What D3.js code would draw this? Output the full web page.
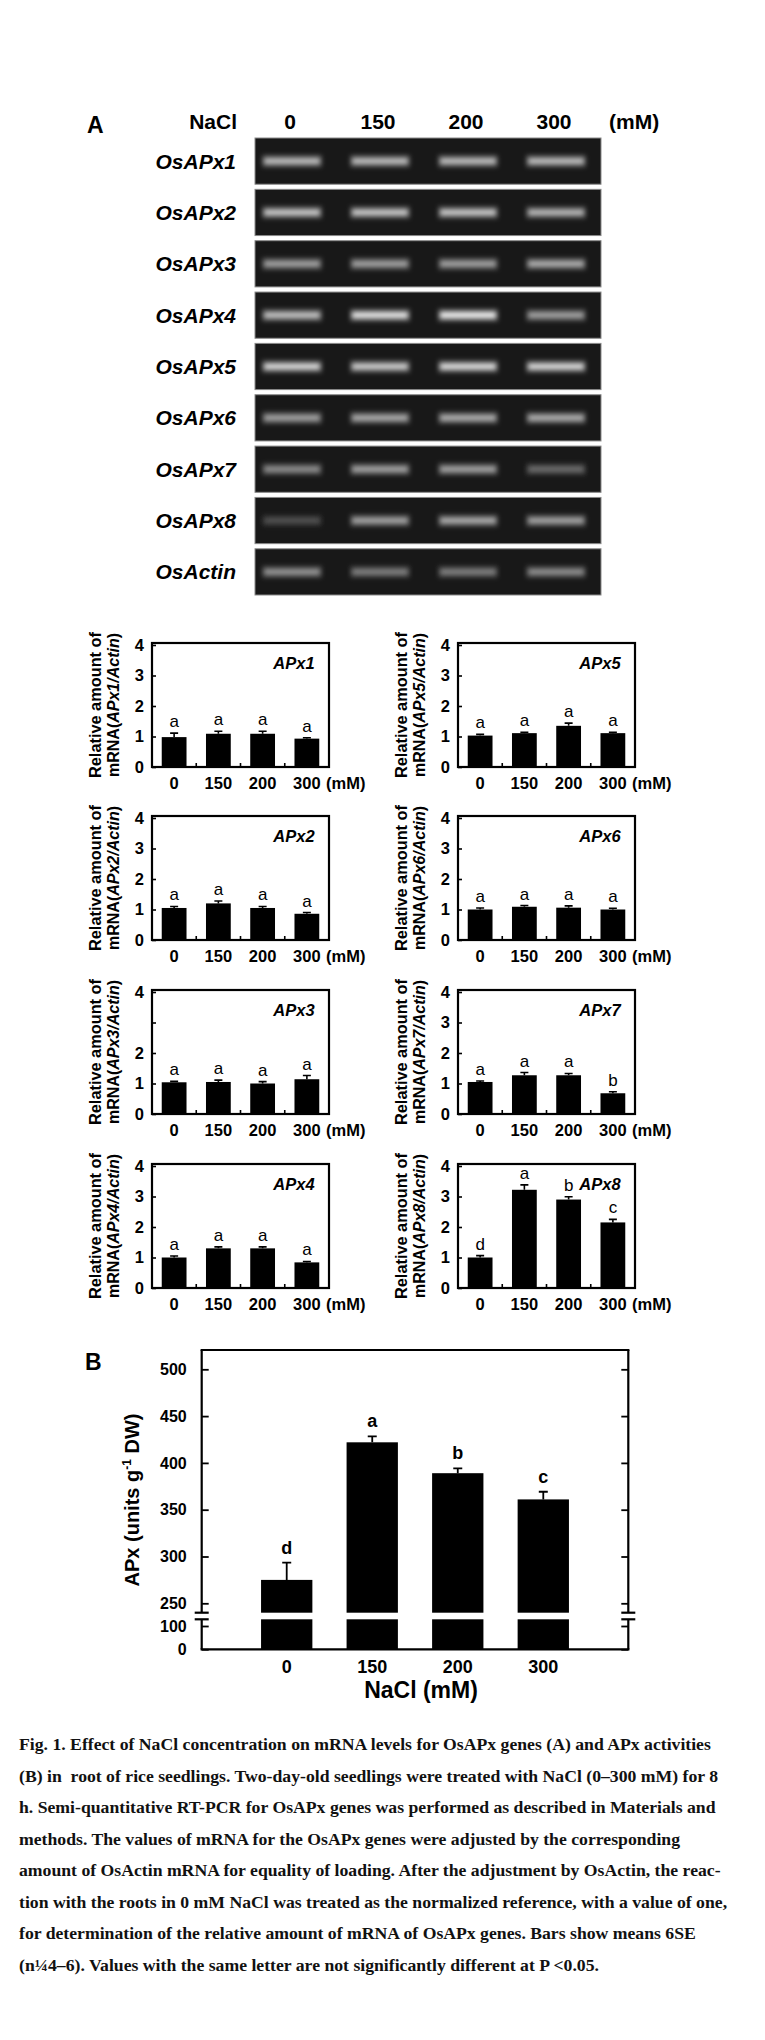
<!DOCTYPE html>
<html>
<head>
<meta charset="utf-8">
<script src="https://cdn.jsdelivr.net/npm/d3@7"></script>
<style>
body { margin: 0; background: #fff; }
svg { display: block; }
text { font-family: "Liberation Sans", Arial, Helvetica, sans-serif; fill: #000; }
.caption { font-family: "Liberation Serif", "Times New Roman", serif; font-weight: bold; font-size: 17.7px; fill: #111; }
</style>
</head>
<body>
<div id="figure"></div>
<script>
// NaCl treatments (mM)
const concentrations = ["0", "150", "200", "300"];

// RT-PCR gel rows and band brightness (0..1) per lane
const gelLabels = ["OsAPx1", "OsAPx2", "OsAPx3", "OsAPx4", "OsAPx5", "OsAPx6", "OsAPx7", "OsAPx8", "OsActin"];
const gelBands = [
    [0.75, 0.75, 0.75, 0.75],
    [0.80, 0.80, 0.80, 0.72],
    [0.62, 0.62, 0.62, 0.68],
    [0.78, 0.95, 1.00, 0.62],
    [0.88, 0.82, 0.90, 0.88],
    [0.62, 0.66, 0.68, 0.68],
    [0.52, 0.62, 0.62, 0.35],
    [0.22, 0.62, 0.66, 0.62],
    [0.55, 0.45, 0.45, 0.52]
];

// relative mRNA (APx / Actin)
const mrnaGenes = ["APx1", "APx2", "APx3", "APx4", "APx5", "APx6", "APx7", "APx8"];
const mrnaMeans = [
    [0.98, 1.09, 1.09, 0.93],
    [1.05, 1.20, 1.05, 0.86],
    [1.04, 1.05, 1.00, 1.14],
    [1.00, 1.30, 1.30, 0.84],
    [1.03, 1.11, 1.35, 1.11],
    [1.00, 1.09, 1.06, 1.00],
    [1.05, 1.27, 1.27, 0.68],
    [1.00, 3.22, 2.90, 2.15]
];
const mrnaSE = [
    [0.13, 0.08, 0.08, 0.03],
    [0.05, 0.08, 0.05, 0.04],
    [0.03, 0.06, 0.06, 0.12],
    [0.05, 0.05, 0.05, 0.03],
    [0.04, 0.03, 0.09, 0.03],
    [0.05, 0.04, 0.06, 0.04],
    [0.03, 0.09, 0.06, 0.05],
    [0.06, 0.16, 0.09, 0.10]
];
const mrnaLetters = [
    ["a", "a", "a", "a"],
    ["a", "a", "a", "a"],
    ["a", "a", "a", "a"],
    ["a", "a", "a", "a"],
    ["a", "a", "a", "a"],
    ["a", "a", "a", "a"],
    ["a", "a", "a", "b"],
    ["d", "a", "b", "c"]
];
const mrnaTicks = [0, 1, 2, 3, 4];
const unlabelledTicks = [[], [], [3], [], [], [], [], []];

// APx activity (units g-1 DW)
const activityMeans = [275, 422, 389, 361];
const activitySE = [18.5, 6.4, 5.2, 8.2];
const activityLetters = ["d", "a", "b", "c"];
const activityTicksUpper = [250, 300, 350, 400, 450, 500];
const activityTicksLower = [0, 100];

const captionLines = [
    "Fig. 1. Effect of NaCl concentration on mRNA levels for OsAPx genes (A) and APx activities",
    "(B) in  root of rice seedlings. Two-day-old seedlings were treated with NaCl (0\u2013300 mM) for 8",
    "h. Semi-quantitative RT-PCR for OsAPx genes was performed as described in Materials and",
    "methods. The values of mRNA for the OsAPx genes were adjusted by the corresponding",
    "amount of OsActin mRNA for equality of loading. After the adjustment by OsActin, the reac-",
    "tion with the roots in 0 mM NaCl was treated as the normalized reference, with a value of one,",
    "for determination of the relative amount of mRNA of OsAPx genes. Bars show means 6SE",
    "(n\u00bc4\u20136). Values with the same letter are not significantly different at P <0.05."
];

const W = 765, H = 2040;

const svg = d3.select("#figure")
    .append("svg")
    .attr("width", W)
    .attr("height", H)
    .style("background", "#fff");

const defs = svg.append("defs");
defs.append("filter").attr("id", "glow")
    .attr("x", "-20%").attr("y", "-200%").attr("width", "140%").attr("height", "500%")
    .append("feGaussianBlur").attr("stdDeviation", "2.8 2.3");

drawGel();
mrnaGenes.forEach((g, i) => drawMrnaPanel(i));
drawActivity();
drawCaption();

function drawGel() {
    const g = svg.append("g");

    g.append("text")
        .attr("x", 87).attr("y", 133)
        .attr("font-size", "23px").attr("font-weight", "bold")
        .text("A");

    const lane = d3.scalePoint()
        .domain(concentrations)
        .range([292, 556]);

    const row = d3.scaleBand()
        .domain(gelLabels)
        .range([138, 595])
        .paddingInner(0.1);

    // header
    g.append("text")
        .attr("x", 237).attr("y", 128.5)
        .attr("text-anchor", "end")
        .attr("font-size", "21px").attr("font-weight", "bold")
        .text("NaCl");

    g.selectAll(".lane-label")
        .data(concentrations)
        .enter()
        .append("text")
        .attr("class", "lane-label")
        .attr("x", d => lane(d) - 2)
        .attr("y", 128.5)
        .attr("text-anchor", "middle")
        .attr("font-size", "21px").attr("font-weight", "bold")
        .text(d => d);

    g.append("text")
        .attr("x", 609).attr("y", 128.5)
        .attr("font-size", "21px").attr("font-weight", "bold")
        .text("(mM)");

    gelLabels.forEach((label, r) => {
        const y0 = row(label);
        const h = row.bandwidth();

        g.append("text")
            .attr("x", 236).attr("y", y0 + h / 2 + 7.5)
            .attr("text-anchor", "end")
            .attr("font-size", "21px").attr("font-weight", "bold").attr("font-style", "italic")
            .text(label);

        g.append("rect")
            .attr("x", 255).attr("y", y0)
            .attr("width", 346).attr("height", h)
            .attr("fill", "#181818")
            .attr("stroke", "#8a8a8a").attr("stroke-width", 1);

        const bands = g.selectAll(".band-" + r)
            .data(gelBands[r])
            .enter();

        // soft halo
        bands.append("rect")
            .attr("x", (d, i) => lane(concentrations[i]) - 30)
            .attr("y", y0 + h / 2 - 7)
            .attr("width", 60).attr("height", 14)
            .attr("fill", "#fff")
            .attr("opacity", d => d * 0.22)
            .attr("filter", "url(#glow)");

        // band core
        bands.append("rect")
            .attr("x", (d, i) => lane(concentrations[i]) - 28)
            .attr("y", y0 + h / 2 - 3.5)
            .attr("width", 56).attr("height", 7)
            .attr("fill", d => { const v = Math.round(35 + 190 * d); return d3.rgb(v, v, v); })
            .attr("filter", "url(#glow)");
    });
}

function drawMrnaPanel(i) {
    const col = Math.floor(i / 4);
    const rowIdx = i % 4;
    const left = [152, 458][col];
    const width = 177;
    const bottom = [767, 940, 1114, 1288][rowIdx];
    const top = bottom - 124;

    const g = svg.append("g");

    const x = d3.scaleBand()
        .domain(concentrations)
        .range([left, left + width])
        .paddingInner(0.44)
        .paddingOuter(0.22);

    const y = d3.scaleLinear()
        .domain([0, 4])
        .range([bottom, bottom - 122]);

    const data = concentrations.map((c, k) => ({
        c: c, mean: mrnaMeans[i][k], se: mrnaSE[i][k], letter: mrnaLetters[i][k]
    }));

    // bars
    g.selectAll(".bar")
        .data(data)
        .enter()
        .append("rect")
        .attr("class", "bar")
        .attr("x", d => x(d.c))
        .attr("y", d => y(d.mean))
        .attr("width", x.bandwidth())
        .attr("height", d => y(0) - y(d.mean))
        .attr("fill", "#000");

    // error bars
    const cx = d => x(d.c) + x.bandwidth() / 2;
    g.selectAll(".err")
        .data(data)
        .enter()
        .append("path")
        .attr("class", "err")
        .attr("d", d => `M${cx(d)},${y(d.mean)}V${y(d.mean + d.se)}M${cx(d) - 4},${y(d.mean + d.se)}H${cx(d) + 4}`)
        .attr("stroke", "#000").attr("stroke-width", 1.6).attr("fill", "none");

    // letters
    g.selectAll(".letter")
        .data(data)
        .enter()
        .append("text")
        .attr("class", "letter")
        .attr("x", cx)
        .attr("y", d => y(d.mean + d.se) - 6)
        .attr("text-anchor", "middle")
        .attr("font-size", "17px")
        .text(d => d.letter);

    // frame
    g.append("rect")
        .attr("x", left).attr("y", top)
        .attr("width", width).attr("height", bottom - top)
        .attr("fill", "none").attr("stroke", "#000").attr("stroke-width", 2.2);

    // y axis, inward ticks
    const yAxis = g.append("g")
        .attr("transform", `translate(${left},0)`)
        .call(d3.axisLeft(y)
            .tickValues(mrnaTicks)
            .tickSizeInner(-4)
            .tickSizeOuter(0)
            .tickPadding(8)
            .tickFormat(d => unlabelledTicks[i].includes(d) ? "" : d));
    yAxis.select(".domain").remove();
    yAxis.selectAll("line").attr("stroke-width", 1.6);
    yAxis.selectAll("text")
        .attr("font-size", "16.5px").attr("font-weight", "bold")
        .attr("font-family", "Liberation Sans, Arial, sans-serif")
        .attr("fill", "#000");

    // x labels
    const xAxis = g.append("g")
        .attr("transform", `translate(0,${bottom})`)
        .call(d3.axisBottom(x).tickSize(0).tickPadding(10));
    xAxis.select(".domain").remove();
    xAxis.selectAll("text")
        .attr("font-size", "16.5px").attr("font-weight", "bold")
        .attr("font-family", "Liberation Sans, Arial, sans-serif")
        .attr("fill", "#000");

    // small ticks between the bars
    g.selectAll(".xtick")
        .data(concentrations.slice(1))
        .enter()
        .append("line")
        .attr("class", "xtick")
        .attr("x1", d => x(d) - x.step() * x.paddingInner() / 2)
        .attr("x2", d => x(d) - x.step() * x.paddingInner() / 2)
        .attr("y1", bottom).attr("y2", bottom - 4)
        .attr("stroke", "#000").attr("stroke-width", 1.6);

    g.append("text")
        .attr("x", left + width - 3).attr("y", bottom + 22)
        .attr("font-size", "16.5px").attr("font-weight", "bold")
        .text("(mM)");

    // gene name
    g.append("text")
        .attr("x", left + width - 35).attr("y", top + 26)
        .attr("text-anchor", "middle")
        .attr("font-size", "16.5px").attr("font-weight", "bold").attr("font-style", "italic")
        .text(mrnaGenes[i]);

    // y title (two lines)
    const midY = (top + bottom) / 2;
    g.append("text")
        .attr("transform", `translate(${left - 51},${midY}) rotate(-90)`)
        .attr("text-anchor", "middle")
        .attr("font-size", "17px").attr("font-weight", "bold")
        .attr("textLength", 146).attr("lengthAdjust", "spacingAndGlyphs")
        .text("Relative amount of");

    const t2 = g.append("text")
        .attr("transform", `translate(${left - 33},${midY}) rotate(-90)`)
        .attr("text-anchor", "middle")
        .attr("font-size", "17px").attr("font-weight", "bold")
        .attr("textLength", 144).attr("lengthAdjust", "spacingAndGlyphs");
    t2.append("tspan").text("mRNA(");
    t2.append("tspan").attr("font-style", "italic").text(mrnaGenes[i] + "/Actin");
    t2.append("tspan").text(")");
}

function drawActivity() {
    const g = svg.append("g");

    const left = 201.7, right = 628.3, top = 1350, bottom = 1649.3;
    const breakHi = 1612.7, breakLo = 1619.3;

    g.append("text")
        .attr("x", 85).attr("y", 1370)
        .attr("font-size", "23px").attr("font-weight", "bold")
        .text("B");

    const x = d3.scaleBand()
        .domain(concentrations)
        .range([left, right])
        .paddingInner(0.4)
        .paddingOuter(0.694);

    // two segments of the broken y axis
    const yUp = d3.scaleLinear().domain([250, 500]).range([1603.3, 1369.3]);
    const yLow = d3.scaleLinear().domain([0, 100]).range([bottom, 1626]);
    const upStart = yUp.invert(breakHi);
    const lowEnd = yLow.invert(breakLo);

    const data = concentrations.map((c, k) => ({
        c: c, mean: activityMeans[k], se: activitySE[k], letter: activityLetters[k]
    }));

    // bars, upper part
    g.selectAll(".barU")
        .data(data)
        .enter()
        .append("rect")
        .attr("x", d => x(d.c))
        .attr("y", d => yUp(d.mean))
        .attr("width", x.bandwidth())
        .attr("height", d => yUp(upStart) - yUp(d.mean))
        .attr("fill", "#000");

    // bars, lower part
    g.selectAll(".barL")
        .data(data)
        .enter()
        .append("rect")
        .attr("x", d => x(d.c))
        .attr("y", yLow(lowEnd))
        .attr("width", x.bandwidth())
        .attr("height", yLow(0) - yLow(lowEnd))
        .attr("fill", "#000");

    const cx = d => x(d.c) + x.bandwidth() / 2;
    g.selectAll(".err")
        .data(data)
        .enter()
        .append("path")
        .attr("d", d => `M${cx(d)},${yUp(d.mean)}V${yUp(d.mean + d.se)}M${cx(d) - 4.5},${yUp(d.mean + d.se)}H${cx(d) + 4.5}`)
        .attr("stroke", "#000").attr("stroke-width", 1.8).attr("fill", "none");

    g.selectAll(".letter")
        .data(data)
        .enter()
        .append("text")
        .attr("x", cx)
        .attr("y", d => yUp(d.mean + d.se) - 9)
        .attr("text-anchor", "middle")
        .attr("font-size", "18px").attr("font-weight", "bold")
        .text(d => d.letter);

    // frame lines
    const line = (x1, y1, x2, y2) => g.append("line")
        .attr("x1", x1).attr("y1", y1).attr("x2", x2).attr("y2", y2)
        .attr("stroke", "#000").attr("stroke-width", 2.2);
    line(left - 1.1, top, right + 1.1, top);
    line(left - 1.1, bottom, right + 1.1, bottom);
    [left, right].forEach(ax => {
        line(ax, top, ax, breakHi);
        line(ax, breakLo, ax, bottom);
        line(ax - 7, breakHi, ax + 7, breakHi);
        line(ax - 7, breakLo, ax + 7, breakLo);
    });

    // ticks and labels
    const styleAxis = sel => {
        sel.select(".domain").remove();
        sel.selectAll("line").attr("stroke-width", 1.8);
        sel.selectAll("text")
            .attr("font-size", "16px").attr("font-weight", "bold")
            .attr("font-family", "Liberation Sans, Arial, sans-serif")
            .attr("fill", "#000");
    };
    [[yUp, activityTicksUpper], [yLow, activityTicksLower]].forEach(([sc, ticks]) => {
        g.append("g")
            .attr("transform", `translate(${left},0)`)
            .call(d3.axisLeft(sc).tickValues(ticks).tickSizeInner(-7).tickSizeOuter(0).tickPadding(15))
            .call(styleAxis);
        g.append("g")
            .attr("transform", `translate(${right},0)`)
            .call(d3.axisRight(sc).tickValues(ticks).tickSizeInner(-7).tickSizeOuter(0).tickFormat(""))
            .call(styleAxis);
    });

    const xAxis = g.append("g")
        .attr("transform", `translate(0,${bottom})`)
        .call(d3.axisBottom(x).tickSize(0).tickPadding(11));
    xAxis.select(".domain").remove();
    xAxis.selectAll("text")
        .attr("font-size", "18px").attr("font-weight", "bold")
        .attr("font-family", "Liberation Sans, Arial, sans-serif")
        .attr("fill", "#000");

    g.append("text")
        .attr("x", 421).attr("y", 1698)
        .attr("text-anchor", "middle")
        .attr("font-size", "23px").attr("font-weight", "bold")
        .text("NaCl (mM)");

    const yt = g.append("text")
        .attr("transform", "translate(139,1500) rotate(-90)")
        .attr("text-anchor", "middle")
        .attr("font-size", "20px").attr("font-weight", "bold");
    yt.append("tspan").text("APx (units g");
    yt.append("tspan").attr("font-size", "12px").attr("dy", -8).text("-1");
    yt.append("tspan").attr("dy", 8).text(" DW)");
}

function drawCaption() {
    svg.selectAll(".caption")
        .data(captionLines)
        .enter()
        .append("text")
        .attr("class", "caption")
        .attr("x", 19)
        .attr("y", (d, i) => 1750 + i * 31.5)
        .attr("xml:space", "preserve")
        .style("white-space", "pre")
        .text(d => d);
}
</script>
</body>
</html>
